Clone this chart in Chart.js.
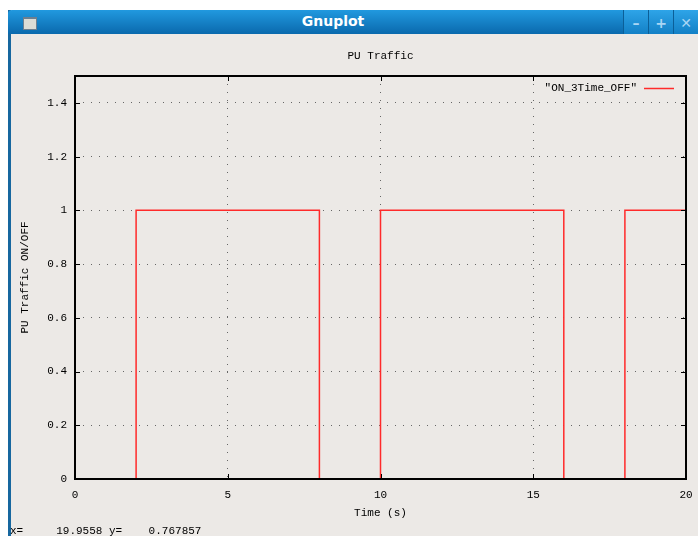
<!DOCTYPE html>
<html>
<head>
<meta charset="utf-8">
<script src="https://cdn.jsdelivr.net/npm/chart.js@4.4.1/dist/chart.umd.min.js"></script>
<style>
  body { margin: 0; width: 698px; height: 536px; overflow: hidden; background: #fff; position: relative; }
  .win { position: absolute; left: 8px; top: 10px; width: 700px; height: 540px; background: #ece9e6; border-left: 3px solid #17679f; }
  .bar { position: absolute; left: -3px; top: 0; right: 0; height: 24px;
         background: linear-gradient(#2199df, #0a69ad); border-top-left-radius: 4px; }
  .bar .name { position: absolute; left: 0; width: 650px; top: 3px; text-align: center;
               font: bold 14px "DejaVu Sans", sans-serif; color: #fff; }
  .bar .icon { position: absolute; left: 15px; top: 7px; width: 12px; height: 10px;
               background: #dcdcd6; border: 1px solid #6c7f90; border-top-width: 2px; }
  .btn { position: absolute; top: 0; width: 24px; height: 24px; background: linear-gradient(#2ea4e8, #1380c6);
         border-left: 1px solid #0b5f98; color: #a9d6f4; font: bold 14px "DejaVu Sans", sans-serif;
         text-align: center; line-height: 26px; }
  #status { position: absolute; left: 10px; top: 525px; font: 11px "Liberation Mono", monospace;
            white-space: pre; color: #000; }
  canvas { position: absolute; left: 0; top: 0; }
</style>
</head>
<body>
<div class="win">
  <div class="bar">
    <div class="icon"></div>
    <div class="name">Gnuplot</div>
    <div class="btn" style="left:615px">–</div>
    <div class="btn" style="left:640px">+</div>
    <div class="btn" style="left:665px">✕</div>
  </div>
</div>
<canvas id="plot" width="698" height="536"></canvas>
<div id="status">x=     19.9558 y=    0.767857</div>
<script>
// PU traffic ON/OFF switching points (value holds from each time onward)
const times = [0, 2, 8, 10, 16, 18, 20];
const states = [0, 1, 0, 1, 0, 1, 1];
const xTicks = [0, 5, 10, 15, 20];
const yTicks = [0, 0.2, 0.4, 0.6, 0.8, 1, 1.2, 1.4];

const monoFont = { family: '"Liberation Mono", monospace', size: 11 };

// gnuplot style frame: box, inward tics on all four sides, key at top right
const gnuFrame = {
    id: 'gnuFrame',
    afterDraw(chart) {
        const { ctx, chartArea: a, scales } = chart;
        ctx.save();
        ctx.strokeStyle = '#000';
        ctx.lineWidth = 2;
        ctx.strokeRect(a.left, a.top, a.right - a.left, a.bottom - a.top);

        ctx.lineWidth = 1;
        ctx.beginPath();
        scales.x.ticks.forEach(t => {
            const px = Math.round(scales.x.getPixelForValue(t.value)) + 0.5;
            ctx.moveTo(px, a.bottom); ctx.lineTo(px, a.bottom - 5);
            ctx.moveTo(px, a.top); ctx.lineTo(px, a.top + 5);
        });
        scales.y.ticks.forEach(t => {
            const py = Math.round(scales.y.getPixelForValue(t.value)) + 0.5;
            ctx.moveTo(a.left, py); ctx.lineTo(a.left + 5, py);
            ctx.moveTo(a.right, py); ctx.lineTo(a.right - 5, py);
        });
        ctx.stroke();

        // key
        const ds = chart.data.datasets[0];
        ctx.font = '11px "Liberation Mono", monospace';
        ctx.fillStyle = '#000';
        ctx.textAlign = 'right';
        ctx.textBaseline = 'middle';
        ctx.fillText('"' + ds.label + '"', a.right - 49, a.top + 12);
        ctx.strokeStyle = ds.borderColor;
        ctx.lineWidth = 1.5;
        ctx.beginPath();
        ctx.moveTo(a.right - 42, a.top + 12.5);
        ctx.lineTo(a.right - 12, a.top + 12.5);
        ctx.stroke();
        ctx.restore();
    }
};

const edgeless = (ends) => (c) => ends.includes(c.tick.value) ? 'rgba(0,0,0,0)' : '#666';

new Chart(document.getElementById('plot'), {
    type: 'line',
    data: {
        datasets: [{
            label: 'ON_3Time_OFF',
            data: times.map((t, i) => ({ x: t, y: states[i] })),
            borderColor: '#ff2a2a',
            borderWidth: 1.5,
            pointRadius: 0,
            stepped: true,
            fill: false
        }]
    },
    options: {
        responsive: false,
        animation: false,
        devicePixelRatio: 1,
        layout: { padding: { left: 0, right: 12, top: 0, bottom: 0 } },
        plugins: {
            legend: { display: false },
            title: { display: false },
            tooltip: { enabled: false }
        },
        scales: {
            x: {
                type: 'linear',
                min: 0,
                max: 20,
                afterBuildTicks: s => { s.ticks = xTicks.map(v => ({ value: v })); },
                afterFit: s => { s.height = 57; s.paddingLeft = 0; s.paddingRight = 0; },
                ticks: { font: monoFont, color: '#000', padding: 9, maxRotation: 0, callback: v => String(v) },
                grid: { drawTicks: false, color: edgeless([0, 20]), lineWidth: 1 },
                border: { display: false, dash: [1, 7] },
                title: { display: true, text: 'Time (s)', font: monoFont, color: '#000', padding: { top: 0, bottom: 16.5 } }
            },
            x2: {
                type: 'linear',
                position: 'top',
                min: 0,
                max: 20,
                afterFit: s => { s.height = 76; s.paddingLeft = 0; s.paddingRight = 0; },
                ticks: { display: false },
                grid: { display: false },
                border: { display: false },
                title: { display: true, text: 'PU Traffic', font: monoFont, color: '#000', padding: { top: 49, bottom: 0 } }
            },
            y: {
                min: 0,
                max: 1.5,
                afterBuildTicks: s => { s.ticks = yTicks.map(v => ({ value: v })); },
                afterFit: s => { s.width = 75; },
                ticks: { font: monoFont, color: '#000', padding: 8, callback: v => String(v) },
                grid: { drawTicks: false, color: edgeless([0]), lineWidth: 1 },
                border: { display: false, dash: [1, 7] },
                title: { display: true, text: 'PU Traffic ON/OFF', font: monoFont, color: '#000', padding: { top: 18.5, bottom: 0 } }
            }
        }
    },
    plugins: [gnuFrame]
});
</script>
</body>
</html>
